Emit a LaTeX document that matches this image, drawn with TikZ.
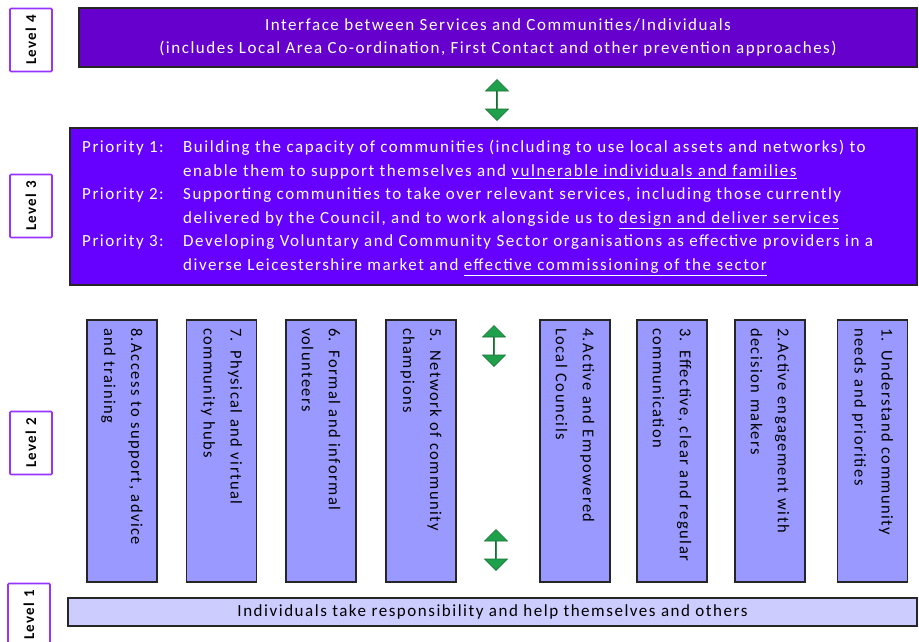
\documentclass[tikz,border=0pt]{standalone}
\usepackage{fontspec}
\setmainfont{Carlito}[LetterSpace=9]
\usetikzlibrary{shapes.arrows}

\definecolor{tierfour}{HTML}{6600CC}
\definecolor{tierthree}{HTML}{6600FF}
\definecolor{pillarblue}{HTML}{9999FF}
\definecolor{baselilac}{HTML}{CCCCFF}
\definecolor{tagpurple}{HTML}{9933FF}
\definecolor{linkgreen}{HTML}{1FA04A}

\tikzset{
  tier/.style={draw=black!85, line width=1.2pt, inner sep=0pt},
  leveltag/.style={draw=tagpurple, line width=1.6pt, fill=white, rounded corners=1pt,
    rotate=90, minimum width=63pt, minimum height=42pt, inner sep=0pt,
    font=\fontsize{15}{17}\selectfont\bfseries},
  pillar/.style={draw=black!85, line width=1.2pt, fill=pillarblue, rotate=-90,
    minimum width=262pt, minimum height=70pt, inner xsep=8pt,
    text width=246pt, align=left, font=\fontsize{16.5}{27}\selectfont},
  twoway/.style={double arrow, rotate=90, fill=linkgreen, draw=linkgreen!70!black,
    line width=0.6pt, minimum height=41pt, minimum width=23pt,
    double arrow head extend=6pt, inner sep=0pt}
}

\begin{document}
\begin{tikzpicture}[x=1pt, y=-1pt]
  \clip (0,0) rectangle (919,641);
  \fill[white] (0,0) rectangle (919,641);

  % level tags down the left side
  \node[leveltag] (tag4) at (31,40)  {Level 4};
  \node[leveltag] (tag3) at (31,206) {Level 3};
  \node[leveltag] (tag2) at (31,443) {Level 2};
  \node[leveltag] (tag1) at (29,615) {Level 1};

  % level 4
  \node[tier, fill=tierfour, minimum width=838pt, minimum height=59pt,
        text=white, align=center, font=\fontsize{17}{23}\selectfont] (four) at (498,37.5)
    {Interface between Services and Communities/Individuals\\
     (includes Local Area Co-ordination, First Contact and other prevention approaches)};

  % level 3
  \node[tier, fill=tierthree, minimum width=847pt, minimum height=157pt] (three) at (493.5,206.5) {};
  \node[anchor=west, inner sep=0pt, text=white, font=\fontsize{17}{23.5}\selectfont] (prio) at (82,207)
    {\begin{tabular}{@{}p{101pt}@{}l@{}}
      Priority 1: & Building the capacity of communities (including to use local assets and networks) to\\
                  & enable them to support themselves and \underline{vulnerable individuals and families}\\
      Priority 2: & Supporting communities to take over relevant services, including those currently\\
                  & delivered by the Council, and to work alongside us to \underline{design and deliver services}\\
      Priority 3: & Developing Voluntary and Community Sector organisations as effective providers in a\\
                  & diverse Leicestershire market and \underline{effective commissioning of the sector}
    \end{tabular}};

  % level 2 pillars
  \foreach \n/\x/\txt in {
      1/872.5/{1. Understand community\\needs and priorities},
      2/770/{2.Active engagement with\\decision makers},
      3/672/{3. Effective, clear and regular\\communication},
      4/575/{4.Active and Empowered\\Local Councils},
      5/421/{5. Network of community\\champions},
      6/321/{6. Formal and informal\\volunteers},
      7/221.5/{7. Physical and virtual\\community hubs},
      8/122/{8.Access to support, advice\\and training}}
    \node[pillar] (p\n) at (\x,451) {\txt};

  % level 1
  \node[tier, fill=baselilac, minimum width=849pt, minimum height=28pt,
        font=\fontsize{17}{20}\selectfont] (one) at (492.5,612)
    {Individuals take responsibility and help themselves and others};

  % links between the levels
  \node[twoway] (link43) at (497,100) {};
  \node[twoway] (link32) at (494,346) {};
  \node[twoway] (link21) at (496,550) {};
\end{tikzpicture}
\end{document}
